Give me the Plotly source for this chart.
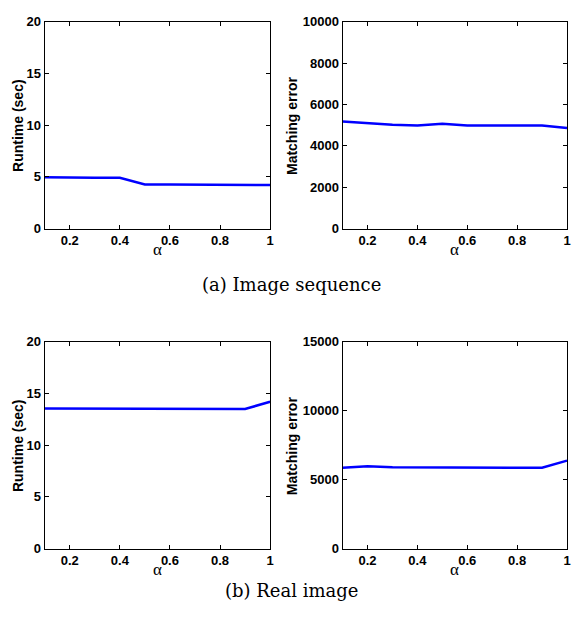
import plotly.graph_objects as go

alpha = [0.1, 0.2, 0.3, 0.4, 0.5, 0.6, 0.7, 0.8, 0.9, 1.0]
runtime_seq = [4.95, 4.9, 4.9, 4.9, 4.25, 4.25, 4.25, 4.25, 4.23, 4.2]
error_seq = [5170, 5090, 5015, 4985, 5060, 4985, 4980, 4980, 4980, 4860]
runtime_real = [13.54, 13.54, 13.54, 13.53, 13.52, 13.5, 13.57, 13.53, 13.5, 14.2]
error_real = [5860, 5980, 5905, 5905, 5905, 5905, 5905, 5860, 5860, 6380]

x_ticks = [0.2, 0.4, 0.6, 0.8, 1.0]
x_ticklabels = ["0.2", "0.4", "0.6", "0.8", "1"]
y_ticks_rt = [0, 5, 10, 15, 20]
y_ticks_err_a = [0, 2000, 4000, 6000, 8000, 10000]
y_ticks_err_b = [0, 5000, 10000, 15000]
captions = ["(a) Image sequence", "(b) Real image"]
y_titles = ["Runtime (sec)", "Matching error", "Runtime (sec)", "Matching error"]

W, H = 572, 624
panels = [
    # (series, yrange, yticks, x0,x1 px, y0,y1 px, title x px)
    (runtime_seq, [0, 20], y_ticks_rt, 45, 272, 15, 227, 18),
    (error_seq, [0, 10000], y_ticks_err_a, 345, 571, 15, 227, 294),
    (runtime_real, [0, 20], y_ticks_rt, 45, 272, 343, 555, 18),
    (error_real, [0, 15000], y_ticks_err_b, 345, 571, 343, 555, 294),
]

fig = go.Figure()
tickfont = dict(family="Liberation Sans, Arial, sans-serif", size=13, color="black",
                weight="bold")
layout = {}
annotations = []
for i, (ys, yr, yt, x0, x1, y0, y1, tx) in enumerate(panels):
    n = "" if i == 0 else str(i + 1)
    fig.add_trace(go.Scatter(x=alpha, y=ys, mode="lines",
                             line=dict(color="#0000ff", width=2.5),
                             xaxis="x" + n, yaxis="y" + n, showlegend=False))
    layout["xaxis" + n] = dict(
        domain=[x0 / W, x1 / W], range=[0.1, 1.0], anchor="y" + n,
        tickvals=x_ticks, ticktext=x_ticklabels, ticks="inside", ticklen=4,
        showline=True, linecolor="black", linewidth=1, mirror="ticks",
        showgrid=False, zeroline=False, tickfont=tickfont, tickcolor="black",
        ticklabelstandoff=0,
    )
    layout["yaxis" + n] = dict(
        domain=[1 - y1 / H, 1 - y0 / H], range=yr, anchor="x" + n,
        tickvals=yt, ticktext=[str(v) for v in yt], ticks="inside", ticklen=4,
        showline=True, linecolor="black", linewidth=1, mirror="ticks",
        showgrid=False, zeroline=False, tickfont=tickfont, tickcolor="black",
        ticklabelstandoff=0,
    )
    annotations.append(dict(text="α", x=(x0 + x1) / 2 / W, y=1 - (y1 + 21) / H,
                            xref="paper", yref="paper", showarrow=False,
                            xanchor="center", yanchor="middle",
                            font=dict(family="Liberation Serif, serif", size=17, color="black")))
    annotations.append(dict(text=y_titles[i], x=tx / W, y=1 - (y0 + y1) / 2 / H,
                            xref="paper", yref="paper", showarrow=False, textangle=-90,
                            xanchor="center", yanchor="middle",
                            font=dict(family="Liberation Sans, Arial, sans-serif", size=14,
                                      color="black", weight="bold")))

annotations.append(dict(text=captions[0], x=294 / W, y=1 - 284 / H, xref="paper", yref="paper",
                        showarrow=False, xanchor="center", yanchor="middle",
                        font=dict(family="DejaVu Serif, serif", size=18, color="black")))
annotations.append(dict(text=captions[1], x=294 / W, y=1 - 598 / H, xref="paper", yref="paper",
                        showarrow=False, xanchor="center", yanchor="middle",
                        font=dict(family="DejaVu Serif, serif", size=18, color="black")))

fig.update_layout(width=W, height=H, margin=dict(l=0, r=0, t=0, b=0),
                  plot_bgcolor="white", paper_bgcolor="white",
                  annotations=annotations, **layout)
fig.write_html("out.html")
